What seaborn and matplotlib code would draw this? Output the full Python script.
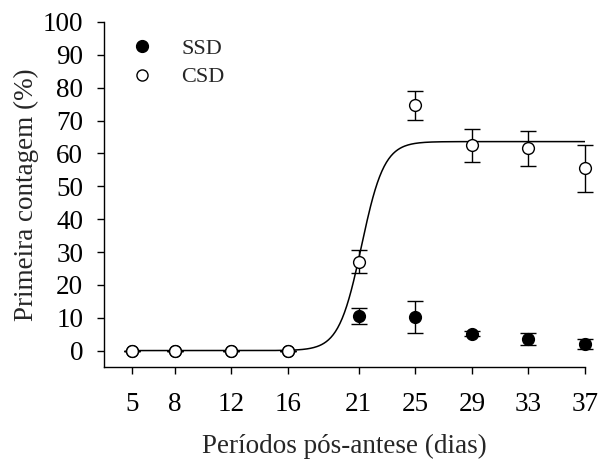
import numpy as np
import pandas as pd
import matplotlib
matplotlib.use("Agg")
import matplotlib.pyplot as plt
import seaborn as sns
from matplotlib.lines import Line2D

# Data
days = [5, 8, 12, 16, 21, 25, 29, 33, 37]
ssd = [0, 0, 0, 0, 10.5, 10.1, 5.1, 3.6, 2.0]
ssd_err = [0, 0, 0, 0, 2.5, 4.9, 0.8, 1.8, 1.5]
csd = [0, 0, 0, 0, 27.1, 74.6, 62.5, 61.6, 55.5]
csd_err = [0, 0, 0, 0, 3.4, 4.4, 5.0, 5.3, 7.2]
# Fitted sigmoid for CSD: a / (1 + exp(-(x - x0) / b))
fit_a, fit_x0, fit_b = 63.6, 21.2, 0.8
yticks = list(range(0, 101, 10))

sns.set_style("ticks")
plt.rcParams['font.family'] = ['Liberation Serif', 'DejaVu Serif']

fig = plt.figure(figsize=(6.01, 4.59), dpi=100)
ax = fig.add_axes([104/601, 1 - 367/459, (585 - 104)/601, (367 - 22)/459])

xs = np.linspace(days[0], days[-1], 400)
curve = pd.DataFrame({"x": xs, "y": fit_a / (1 + np.exp(-(xs - fit_x0) / fit_b))})
sns.lineplot(data=curve, x="x", y="y", ax=ax, color="black", lw=1.1, zorder=2)

for vals, errs in [(ssd, ssd_err), (csd, csd_err)]:
    eb = ax.errorbar(days, vals, yerr=errs, fmt="none", ecolor="black", elinewidth=1.0,
                     capsize=5.5, capthick=1.0, zorder=3)
    for art in eb.get_children():
        art.set_clip_on(False)

df_ssd = pd.DataFrame({"x": days, "y": ssd})
df_csd = pd.DataFrame({"x": days, "y": csd})
sns.scatterplot(data=df_ssd, x="x", y="y", ax=ax, color="black", edgecolor="black",
                s=72, linewidth=1.0, zorder=4, clip_on=False)
sns.scatterplot(data=df_csd, x="x", y="y", ax=ax, color="white", edgecolor="black",
                s=72, linewidth=1.0, zorder=5, clip_on=False)

ax.set_xlim(3, 37)
ax.set_ylim(-5, 100)
ax.set_xticks(days)
ax.set_xticklabels([str(d) for d in days])
ax.set_yticks(yticks)
ax.set_yticklabels([str(t) for t in yticks])
ax.tick_params(axis="both", direction="out", length=5, width=1.0, labelsize=19.5,
               colors="black")
ax.tick_params(axis="y", pad=10)
ax.tick_params(axis="x", pad=13)
for s in ["top", "right"]:
    ax.spines[s].set_visible(False)
for s in ["left", "bottom"]:
    ax.spines[s].set_linewidth(1.0)
    ax.spines[s].set_color("black")

ax.set_xlabel("Períodos pós-antese (dias)", fontsize=19.5, labelpad=12)
ax.set_ylabel("Primeira contagem (%)", fontsize=19.5, labelpad=3)

handles = [
    Line2D([], [], marker="o", ls="none", color="black", markerfacecolor="black",
           markersize=8.5, markeredgewidth=1.0, label="SSD"),
    Line2D([], [], marker="o", ls="none", color="black", markerfacecolor="white",
           markersize=8.0, markeredgewidth=1.0, label="CSD"),
]
ax.legend(handles=handles, loc="upper left", bbox_to_anchor=(0.015, 1.01),
          frameon=False, fontsize=16, handletextpad=1.25, labelspacing=0.35,
          handlelength=1.0)

fig.savefig("out.png", dpi=100)
